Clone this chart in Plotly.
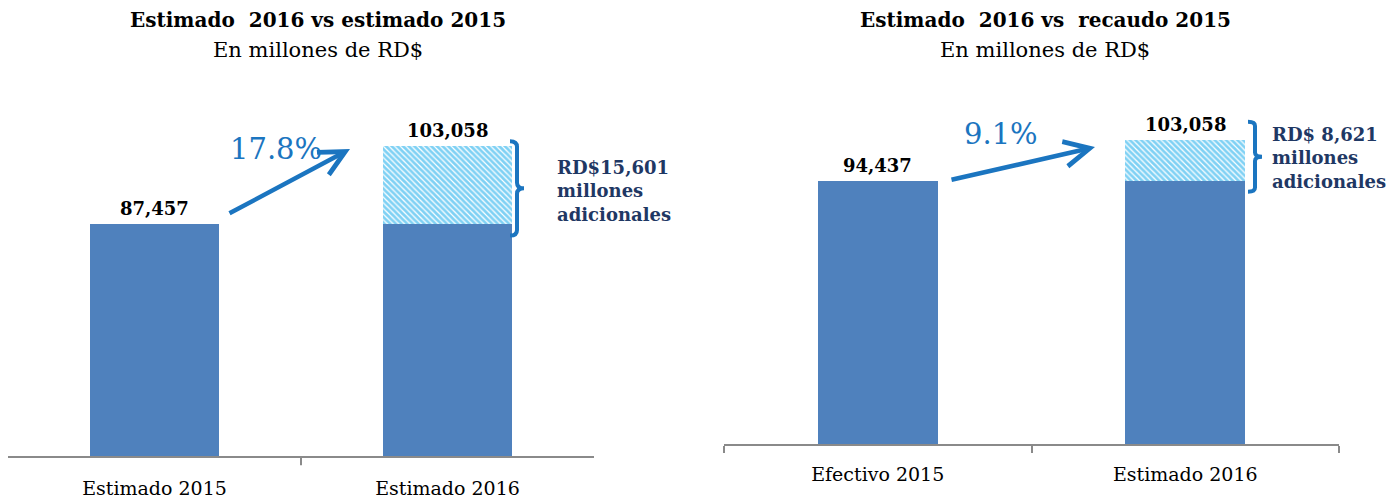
import plotly.graph_objects as go

# data
left_cats = ["Estimado 2015", "Estimado 2016"]
left_base = [87457, 87457]
left_extra = [0, 15601]
left_totals = [87457, 103058]
left_growth = "17.8%"
left_extra_lines = ["RD$15,601", "millones", "adicionales"]

right_cats = ["Efectivo 2015", "Estimado 2016"]
right_base = [94437, 94437]
right_extra = [0, 8621]
right_totals = [94437, 103058]
right_growth = "9.1%"
right_extra_lines = ["RD$ 8,621", "millones", "adicionales"]

titles = ["Estimado\u00a0 2016 vs estimado 2015", "Estimado\u00a0 2016 vs\u00a0 recaudo 2015"]
subtitle = "En millones de RD$"

W, H = 1393, 499
FONT = "DejaVu Serif"
BAR = "#4f81bd"
HATCH = "#00a3ea"
ARROW = "#1b75c0"
NAVY = "#1f3864"
AXIS = "#8a8a8a"

fig = go.Figure()

panels = [
    dict(cats=left_cats, base=left_base, extra=left_extra, totals=left_totals,
         xa="x", ya="y", width=0.44),
    dict(cats=right_cats, base=right_base, extra=right_extra, totals=right_totals,
         xa="x2", ya="y2", width=0.39),
]

for p in panels:
    fig.add_trace(go.Bar(x=p["cats"], y=p["base"], xaxis=p["xa"], yaxis=p["ya"],
                         width=p["width"], marker=dict(color=BAR, line=dict(width=0)),
                         showlegend=False, hoverinfo="skip"))
    fig.add_trace(go.Bar(x=p["cats"], y=p["extra"], xaxis=p["xa"], yaxis=p["ya"],
                         width=p["width"],
                         marker=dict(color="white", line=dict(width=0),
                                     pattern=dict(shape="\\", fgcolor=HATCH, bgcolor="white",
                                                  size=4, solidity=0.7, fillmode="overlay")),
                         showlegend=False, hoverinfo="skip"))
    # value labels on top
    for c, t in zip(p["cats"], p["totals"]):
        fig.add_annotation(x=c, y=t, xref=p["xa"], yref=p["ya"], text=f"<b>{t:,}</b>",
                           showarrow=False, yanchor="bottom", yshift=3,
                           font=dict(family=FONT, size=18, color="black"))

axis_common = dict(showgrid=False, zeroline=False, showline=True, linecolor=AXIS, linewidth=2,
                   tickfont=dict(family=FONT, size=19, color="black"), fixedrange=True)

fig.update_layout(
    width=W, height=H,
    margin=dict(l=0, r=0, t=0, b=0),
    paper_bgcolor="white", plot_bgcolor="white",
    barmode="stack",
    xaxis=dict(domain=[8 / W, 594 / W], anchor="y", ticks="", ticklabelstandoff=14, **axis_common),
    yaxis=dict(domain=[(H - 459) / H, 1], range=[40657, 132457], visible=False, fixedrange=True),
    xaxis2=dict(domain=[724 / W, 1339 / W], anchor="y2", ticks="outside", tickson="boundaries",
                ticklen=7, tickwidth=2, tickcolor=AXIS, ticklabelstandoff=12, **axis_common),
    yaxis2=dict(domain=[(H - 447) / H, 1], range=[38708, 132711], visible=False, fixedrange=True),
)

# middle tick for the left axis
fig.add_shape(type="line", xref="x", yref="y domain", x0=0.5, x1=0.5, y0=0, y1=-0.02,
              line=dict(color=AXIS, width=2))

# titles
for cx, t in zip([318, 1045], titles):
    fig.add_annotation(x=cx / W, y=1 - 20 / H, xref="paper", yref="paper", text=f"<b>{t}</b>",
                       showarrow=False, xanchor="center", yanchor="middle",
                       font=dict(family=FONT, size=20, color="black"))
    fig.add_annotation(x=cx / W, y=1 - 50 / H, xref="paper", yref="paper", text=subtitle,
                       showarrow=False, xanchor="center", yanchor="middle",
                       font=dict(family=FONT, size=21, color="black"))

# growth arrows
arrows = [((350, 150), (228, 215), left_growth, (276, 150)),
          ((1095, 148), (950, 181), right_growth, (1001, 135))]
for (hx, hy), (tx, ty), label, (lx, ly) in arrows:
    fig.add_annotation(x=hx / W, y=1 - hy / H, xref="paper", yref="paper",
                       ax=tx - hx, ay=ty - hy, text="", showarrow=True,
                       arrowhead=5, arrowsize=1.1, arrowwidth=4.5, arrowcolor=ARROW)
    fig.add_annotation(x=lx / W, y=1 - ly / H, xref="paper", yref="paper", text=label,
                       showarrow=False, xanchor="center", yanchor="middle",
                       font=dict(family=FONT, size=29, color=ARROW))


def brace(xa, ya, x0, x1, x2, yb, yt):
    ym = (yb + yt) / 2
    d = (yt - yb) * 0.06
    path = (f"M{x0},{yt} Q{x1},{yt} {x1},{yt - d} L{x1},{ym + d} Q{x1},{ym} {x2},{ym} "
            f"Q{x1},{ym} {x1},{ym - d} L{x1},{yb + d} Q{x1},{yb} {x0},{yb}")
    fig.add_shape(type="path", path=path, xref=xa + " domain", yref=ya,
                  line=dict(color=ARROW, width=4))


# braces spanning the additional amount
brace("x", "y", (510 - 8) / 586, (517 - 8) / 586, (524 - 8) / 586,
      left_base[1] - 2400, left_totals[1] + 1000)
brace("x2", "y2", (1248 - 724) / 615, (1255 - 724) / 615, (1262 - 724) / 615,
      right_base[1] - 2300, right_totals[1] + 3900)

fig.add_annotation(x=555 / W, y=1 - 192 / H, xref="paper", yref="paper", xanchor="left",
                   yanchor="middle", align="left",
                   text="<b>" + "<br>".join(left_extra_lines) + "</b>",
                   showarrow=False, font=dict(family=FONT, size=18, color=NAVY))
fig.add_annotation(x=1270 / W, y=1 - 159 / H, xref="paper", yref="paper", xanchor="left",
                   yanchor="middle", align="left",
                   text="<b>" + "<br>".join(right_extra_lines) + "</b>",
                   showarrow=False, font=dict(family=FONT, size=18, color=NAVY))

fig.write_html("out.html", config={"displayModeBar": False},
               post_script="document.body.style.margin='0';")
